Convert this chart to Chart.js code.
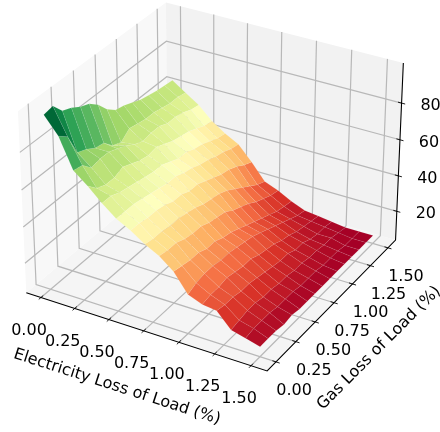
<!DOCTYPE html>
<html>
<head>
<meta charset="utf-8">
<title>Loss of load surface</title>
<script src="https://cdn.jsdelivr.net/npm/chart.js@4"></script>
<style>
    html, body { margin: 0; padding: 0; background: #fff; }
    canvas { display: block; }
</style>
</head>
<body>
<canvas id="surface" width="440" height="432"></canvas>
<script>
// Datos
const xValues = [0, 0.1, 0.2, 0.3, 0.4, 0.5, 0.6, 0.7, 0.8, 0.9, 1.0, 1.1, 1.2, 1.3, 1.4, 1.5];
const yValues = [0, 0.1, 0.2, 0.3, 0.4, 0.5, 0.6, 0.7, 0.8, 0.9, 1.0, 1.1, 1.2, 1.3, 1.4, 1.5];
const zRows = [
    [98, 99, 93, 91, 88, 86, 82, 76, 72, 71, 69, 67, 66, 65, 64.5, 64],
    [89, 85, 73, 71, 68, 67, 62, 60, 64, 63, 62, 62, 61, 60, 60, 59],
    [73, 72, 67, 68, 68, 66, 64, 61, 59, 60, 60, 58, 58, 57, 55, 54],
    [67, 62, 60, 60, 62, 60, 58, 57, 58, 56, 54, 53, 52, 50, 48, 47],
    [60, 60, 58, 57, 56, 55, 54, 54, 52, 50, 50, 48, 47, 45, 43, 42],
    [54, 54, 54, 53, 52, 51, 50, 50, 48, 47, 45, 44, 42, 41, 39, 38],
    [50, 50, 49, 49, 48, 46, 46, 44, 44, 42, 40, 38, 37, 35, 32, 30],
    [45, 44, 44, 43, 43, 42, 41, 39, 38, 37, 35, 32, 29, 26, 23, 21],
    [41, 40, 40, 38, 37, 37, 35, 34, 33, 30, 28, 26, 23, 21, 19, 18],
    [35, 34, 33, 33, 31, 31, 29, 28, 26, 24, 22, 20, 18, 16, 15, 14],
    [25, 27, 28, 28, 27, 27, 26, 25, 24, 22, 20, 18, 16, 14, 12, 11],
    [22, 23, 23, 24, 23, 22, 22, 20, 19, 18, 16, 15, 13, 12, 11, 10],
    [21, 20, 20, 19, 19, 18, 17, 16, 15, 15, 13, 13, 11, 10, 10, 9],
    [13, 14, 15, 15, 14, 14, 13, 13, 12, 12, 11, 11, 10, 10, 9, 8],
    [11, 12, 12, 12, 11, 11, 11, 10, 10, 10, 9, 9, 9, 8, 8, 8],
    [9, 9, 9, 8, 9, 8, 8, 8, 8, 8, 8, 8, 8, 8, 8, 8]
];
const xTicks = [0, 0.25, 0.5, 0.75, 1.0, 1.25, 1.5];
const yTicks = [0, 0.25, 0.5, 0.75, 1.0, 1.25, 1.5];
const zTicks = [20, 40, 60, 80];
const xLabel = 'Electricity Loss of Load (%)';
const yLabel = 'Gas Loss of Load (%)';
const xLim = [-0.11, 1.61];
const yLim = [-0.11, 1.61];
const zLim = [3.5, 101.5];

const rdYlGn = [
    [165, 0, 38], [215, 48, 39], [244, 109, 67], [253, 174, 97], [254, 224, 139], [255, 255, 191],
    [217, 239, 139], [166, 217, 106], [102, 189, 99], [26, 152, 80], [0, 104, 55]
];

// Camara 3D: elevacion 30, azimut -60, distancia 10
const boxX = 1.1429, boxY = 1.1429, boxZ = 0.8571;
const camDist = 10;
const camN = [0.4330, -0.75, 0.5];
const camU = [0.8660, 0.5, 0];
const camV = [-0.25, 0.4330, 0.8660];

function project(x, y, z) {
    let px = ((x - xLim[0]) / (xLim[1] - xLim[0]) - 0.5) * boxX;
    let py = ((y - yLim[0]) / (yLim[1] - yLim[0]) - 0.5) * boxY;
    let pz = ((z - zLim[0]) / (zLim[1] - zLim[0]) - 0.5) * boxZ;
    let w = camDist - (camN[0] * px + camN[1] * py + camN[2] * pz);
    return {
        x: (camU[0] * px + camU[1] * py + camU[2] * pz) / w,
        y: (camV[0] * px + camV[1] * py + camV[2] * pz) / w,
        depth: w
    };
}

function polyDataset(points, fillColor, edgeColor, edgeWidth) {
    return {
        data: points.map(p => project(p[0], p[1], p[2])),
        showLine: true,
        pointRadius: 0,
        borderWidth: edgeWidth,
        borderColor: edgeColor,
        fill: 'shape',
        backgroundColor: fillColor
    };
}

function lineDataset(points, color, width) {
    return {
        data: points.map(p => project(p[0], p[1], p[2])),
        showLine: true,
        pointRadius: 0,
        borderWidth: width,
        borderColor: color,
        fill: false
    };
}

function cmapColor(t) {
    let pos = Math.min(Math.max(t, 0), 1) * (rdYlGn.length - 1);
    let i = Math.min(Math.floor(pos), rdYlGn.length - 2);
    let f = pos - i;
    let c = rdYlGn[i].map((v, k) => Math.round(v + (rdYlGn[i + 1][k] - v) * f));
    return `rgb(${c[0]}, ${c[1]}, ${c[2]})`;
}

let [x0, x1] = xLim;
let [y0, y1] = yLim;
let [z0, z1] = zLim;
const gridColor = '#b8b8b8';
const tickX = 0.025, tickY = 0.025;

// en orden de pintado: lo primero queda al fondo
let layers = [];
layers.push(polyDataset([[x0, y0, z0], [x1, y0, z0], [x1, y1, z0], [x0, y1, z0], [x0, y0, z0]], '#f5f5f5', '#f5f5f5', 0));
layers.push(polyDataset([[x0, y0, z0], [x0, y1, z0], [x0, y1, z1], [x0, y0, z1], [x0, y0, z0]], '#f8f8f8', '#f8f8f8', 0));
layers.push(polyDataset([[x0, y1, z0], [x1, y1, z0], [x1, y1, z1], [x0, y1, z1], [x0, y1, z0]], '#f2f2f2', '#f2f2f2', 0));

for (let t of xTicks) {
    layers.push(lineDataset([[t, y0, z0], [t, y1, z0], [t, y1, z1]], gridColor, 1.2));
    layers.push(lineDataset([[t, y0 - tickY, z0], [t, y0 + tickY, z0]], '#000', 0.9));
}
for (let t of yTicks) {
    layers.push(lineDataset([[x1, t, z0], [x0, t, z0], [x0, t, z1]], gridColor, 1.2));
    layers.push(lineDataset([[x1 - tickX, t, z0], [x1 + tickX, t, z0]], '#000', 0.9));
}
for (let t of zTicks) {
    layers.push(lineDataset([[x0, y0, t], [x0, y1, t], [x1, y1, t]], gridColor, 1.2));
    layers.push(lineDataset([[x1 - tickX, y1, t], [x1 + tickX, y1, t]], '#000', 0.9));
}
layers.push(lineDataset([[x0, y0, z0], [x1, y0, z0], [x1, y1, z0], [x1, y1, z1]], '#000', 1.1));

// caras de la superficie, de la mas lejana a la mas cercana
let faces = [];
for (let i = 0; i < xValues.length - 1; i++) {
    for (let j = 0; j < yValues.length - 1; j++) {
        let corners = [
            [xValues[i], yValues[j], zRows[i][j]],
            [xValues[i + 1], yValues[j], zRows[i + 1][j]],
            [xValues[i + 1], yValues[j + 1], zRows[i + 1][j + 1]],
            [xValues[i], yValues[j + 1], zRows[i][j + 1]]
        ];
        let avgZ = corners.reduce((s, c) => s + c[2], 0) / 4;
        let depth = corners.reduce((s, c) => s + project(c[0], c[1], c[2]).depth, 0) / 4;
        faces.push({ corners, avgZ, depth });
    }
}
let zMinAvg = Math.min(...faces.map(f => f.avgZ));
let zMaxAvg = Math.max(...faces.map(f => f.avgZ));
faces.sort((a, b) => b.depth - a.depth);
for (let f of faces) {
    let c = cmapColor((f.avgZ - zMinAvg) / (zMaxAvg - zMinAvg));
    layers.push(polyDataset([...f.corners, f.corners[0]], c, 'rgba(255, 255, 255, 0.16)', 0.4));
}

const textPlugin = {
    id: 'axisText',
    afterDraw(chart) {
        let ctx = chart.ctx;
        let sx = chart.scales.x;
        let sy = chart.scales.y;
        let put = (p, dx, dy, text) => {
            ctx.fillText(text, sx.getPixelForValue(p.x) + dx, sy.getPixelForValue(p.y) + dy);
        };
        ctx.save();
        ctx.fillStyle = '#000';
        ctx.textAlign = 'center';
        ctx.textBaseline = 'middle';
        ctx.font = '16px "DejaVu Sans"';
        for (let t of xTicks) put(project(t, y0, z0), -12, 33, t.toFixed(2));
        for (let t of yTicks) put(project(x1, t, z0), 18, 29, t.toFixed(2));
        for (let t of zTicks) put(project(x1, y1, t), 29, 3, String(t));

        ctx.translate(117, 387);
        ctx.rotate(17.9 * Math.PI / 180);
        ctx.fillText(xLabel, 0, 0);
        ctx.restore();

        ctx.save();
        ctx.fillStyle = '#000';
        ctx.textAlign = 'center';
        ctx.textBaseline = 'middle';
        ctx.font = '16px "DejaVu Sans"';
        ctx.translate(379, 348);
        ctx.rotate(-45 * Math.PI / 180);
        ctx.fillText(yLabel, 0, 0);
        ctx.restore();
    }
};

let ctx = document.getElementById('surface').getContext('2d');
let myChart = new Chart(ctx, {
    type: 'scatter',
    data: { datasets: layers.slice().reverse() },
    options: {
        responsive: false,
        animation: false,
        devicePixelRatio: 1,
        layout: { padding: 0 },
        events: [],
        plugins: { legend: { display: false }, tooltip: { enabled: false } },
        scales: {
            x: { type: 'linear', display: false, bounds: 'data', min: -0.0887, max: 0.0935 },
            y: { type: 'linear', display: false, bounds: 'data', min: -0.1051, max: 0.07379 }
        }
    },
    plugins: [textPlugin]
});
</script>
</body>
</html>
